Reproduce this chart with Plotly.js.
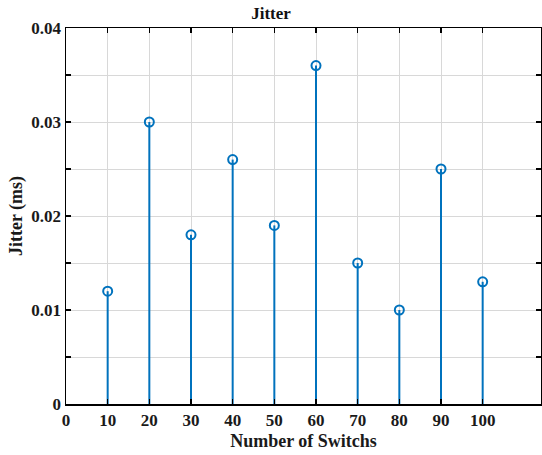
<!DOCTYPE html>
<html>
<head>
<meta charset="utf-8">
<script src="https://cdn.plot.ly/plotly-3.0.1.min.js"></script>
<style>
  html, body { margin: 0; padding: 0; background: #fff; }
  #chart { width: 542px; height: 455px; }
</style>
</head>
<body>
<div id="chart"></div>
<script>
// Jitter measured for each network size
const switches = [10, 20, 30, 40, 50, 60, 70, 80, 90, 100];
const jitter = [0.012, 0.030, 0.018, 0.026, 0.019, 0.036, 0.015, 0.010, 0.025, 0.013];
const xTicks = [0, 10, 20, 30, 40, 50, 60, 70, 80, 90, 100];
const yTicks = [0, 0.01, 0.02, 0.03, 0.04];

const stemColor = '#0072BD';
const font = 'Liberation Serif, Times New Roman, serif';

// Stem lines: one segment from zero to each value, separated by gaps
const stemX = [], stemY = [];
switches.forEach((s, i) => {
  stemX.push(s, s, null);
  stemY.push(0, jitter[i], null);
});

const traces = [
  {
    x: stemX, y: stemY, type: 'scatter', mode: 'lines',
    line: { color: stemColor, width: 2 },
    hoverinfo: 'skip', showlegend: false
  },
  {
    x: switches, y: jitter, type: 'scatter', mode: 'markers',
    marker: { symbol: 'circle-open', size: 9, color: stemColor, line: { width: 2, color: stemColor } },
    showlegend: false
  }
];

const axisCommon = {
  showline: true, linecolor: '#000', linewidth: 1.5, mirror: 'allticks',
  ticks: 'inside', ticklen: 5, tickcolor: '#000', tickwidth: 1.5,
  showgrid: true, gridcolor: '#d8d8d8', gridwidth: 1,
  zeroline: false,
  tickfont: { family: font, size: 17, color: '#1a1a1a' }
};

const layout = {
  width: 542, height: 455,
  margin: { l: 66, r: 1, t: 28, b: 51 },
  paper_bgcolor: '#fff', plot_bgcolor: '#fff',
  title: { text: '<b>Jitter</b>', font: { family: font, size: 17, color: '#111' }, x: 0.5, xanchor: 'center', y: 0.984, yanchor: 'top' },
  xaxis: Object.assign({}, axisCommon, {
    range: [0, 114], tickmode: 'array', tickvals: xTicks,
    ticktext: xTicks.map(v => '<b>' + v + '</b>'),
    title: { text: '<b>Number of Switchs</b>', font: { family: font, size: 18, color: '#1a1a1a' }, standoff: 5 }
  }),
  yaxis: Object.assign({}, axisCommon, {
    range: [0, 0.04], tickmode: 'array', tickvals: yTicks,
    ticktext: yTicks.map(v => '<b>' + v + '</b>'),
    minor: { dtick: 0.005, tick0: 0, showgrid: true, gridcolor: '#d8d8d8', ticks: 'inside', ticklen: 5, tickcolor: '#000' },
    title: { text: '<b>Jitter (ms)</b>', font: { family: font, size: 18, color: '#1a1a1a' }, standoff: 4 }
  }),
  showlegend: false
};

Plotly.newPlot('chart', traces, layout, { displayModeBar: false, staticPlot: true });
</script>
</body>
</html>
